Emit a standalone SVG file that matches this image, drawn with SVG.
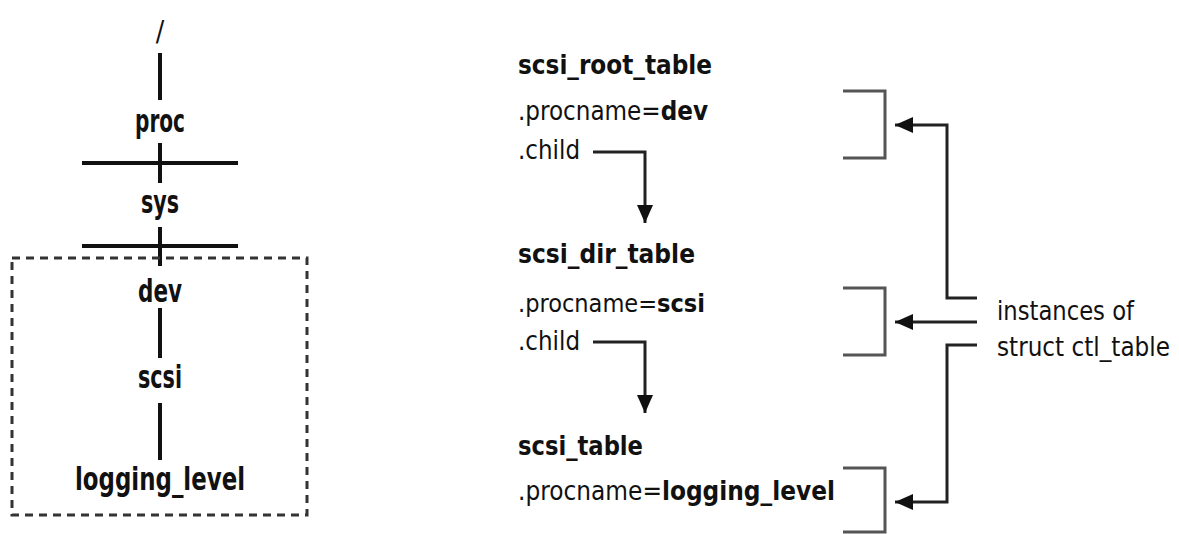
<svg xmlns="http://www.w3.org/2000/svg" width="1179" height="534" viewBox="0 0 1179 534">
<style>
text{font-family:"DejaVu Sans Condensed","DejaVu Sans","Liberation Sans",sans-serif;fill:#111}
.b{font-weight:bold}
.t{font-size:32px;font-weight:bold;text-anchor:middle}
.r{font-size:26px}
.tl{stroke:#111;stroke-width:4;fill:none}
.br{stroke:#555;stroke-width:3;fill:none}
.ar{stroke:#222;stroke-width:3;fill:none;marker-end:url(#ah)}
</style>
<defs>
<marker id="ah" markerUnits="userSpaceOnUse" markerWidth="20" markerHeight="16" refX="18" refY="8" orient="auto">
<path d="M0,0 L18,8 L0,16 z" fill="#111"/>
</marker>
</defs>
<rect width="1179" height="534" fill="#fff"/>
<g id="connectors">
<path class="tl" d="M160,53V100M160,143V183M160,227V266M160,308V358M160,403V460M82,163H238M82,246H238"/>
<rect x="12" y="258" width="295" height="257" fill="none" stroke="#333" stroke-width="3" stroke-dasharray="8 6"/>
<path class="ar" d="M593,152H645V223"/>
<path class="ar" d="M593,342H645V413"/>
<path class="br" d="M843,91H885V158H843M843,288H885V355H843M843,468H885V532H843"/>
<path class="ar" d="M977,298H947V125H895"/>
<path class="ar" d="M977,322H895"/>
<path class="ar" d="M977,345H947V502H895"/>
</g>
<g id="tree">
<text x="160" y="41" font-size="28" text-anchor="middle">/</text>
<text class="t" x="160" y="132" textLength="50" lengthAdjust="spacingAndGlyphs">proc</text>
<text class="t" x="160" y="213" textLength="38" lengthAdjust="spacingAndGlyphs">sys</text>
<text class="t" x="160" y="302" textLength="44" lengthAdjust="spacingAndGlyphs">dev</text>
<text class="t" x="160" y="388" textLength="44" lengthAdjust="spacingAndGlyphs">scsi</text>
<text class="t" x="160" y="490" textLength="170" lengthAdjust="spacingAndGlyphs">logging_level</text>
</g>
<g id="scsi_root_table">
<text class="r b" x="518" y="74" textLength="194" lengthAdjust="spacingAndGlyphs">scsi_root_table</text>
<text class="r" x="518" y="120" textLength="190" lengthAdjust="spacingAndGlyphs">.procname=<tspan class="b">dev</tspan></text>
<text class="r" x="518" y="159" textLength="62" lengthAdjust="spacingAndGlyphs">.child</text>
</g>
<g id="scsi_dir_table">
<text class="r b" x="518" y="263" textLength="177" lengthAdjust="spacingAndGlyphs">scsi_dir_table</text>
<text class="r" x="518" y="312" font-size="25" style="font-size:25px" textLength="187" lengthAdjust="spacingAndGlyphs">.procname=<tspan class="b">scsi</tspan></text>
<text class="r" x="518" y="350" textLength="62" lengthAdjust="spacingAndGlyphs">.child</text>
</g>
<g id="scsi_table">
<text class="r b" x="518" y="455" textLength="125" lengthAdjust="spacingAndGlyphs">scsi_table</text>
<text class="r" x="518" y="500" textLength="317" lengthAdjust="spacingAndGlyphs">.procname=<tspan class="b">logging_level</tspan></text>
</g>
<g id="label">
<text class="r" x="997" y="320" textLength="137" lengthAdjust="spacingAndGlyphs">instances of</text>
<text class="r" x="997" y="356" textLength="173" lengthAdjust="spacingAndGlyphs">struct ctl_table</text>
</g>
</svg>
